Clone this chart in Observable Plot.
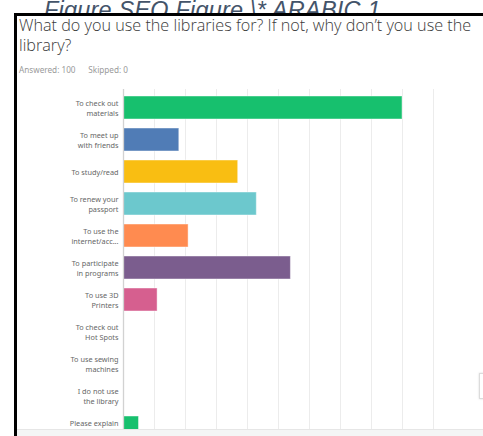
<!DOCTYPE html>
<html>
<head>
<meta charset="utf-8">
<script src="https://cdn.jsdelivr.net/npm/d3@7"></script>
<script src="https://cdn.jsdelivr.net/npm/@observablehq/plot@0.6"></script>
<style>
  html, body { margin: 0; padding: 0; background: white; width: 483px; height: 436px; overflow: hidden; position: relative; }
  .abs { position: absolute; }
  #caption { left: 44px; top: -3px; font: italic 23.5px "Liberation Sans", sans-serif; color: #44546a; white-space: nowrap; letter-spacing: 0.2px; }
  #box { left: 14px; top: 13px; width: 469px; height: 430px; background: white; border-left: 3px solid #000; border-top: 3px solid #000; box-sizing: border-box; }
  #title { left: 19px; top: 15px; width: 463px; font: 300 16.2px/20px "Open Sans", sans-serif; color: #3a3a3a; }
  #meta { left: 19px; top: 64px; font: 8.2px "Noto Sans", sans-serif; color: #9a9a9a; white-space: pre; }
  #chart { left: 0; top: 80px; }
  #leftborder { left: 14px; top: 13px; width: 3px; height: 430px; background: #000; z-index: 5; }
  #strip { left: 17px; top: 429px; width: 466px; height: 10px; background: #f4f5f5; border-top: 1px solid #e6e6e6; z-index: 4; }
  #widget { left: 479px; top: 373px; width: 10px; height: 24px; background: #fff; border: 1px solid #dcdcdc; box-shadow: 0 0 2px rgba(0,0,0,0.15); z-index: 4; }
</style>
</head>
<body>
<div id="caption" class="abs">Figure  SEQ Figure \* ARABIC 1</div>
<div id="box" class="abs"></div>
<div id="title" class="abs">What do you use the libraries for? If not, why don’t you use the library?</div>
<div id="meta" class="abs">Answered: 100      Skipped: 0</div>
<div id="chart" class="abs"></div>
<div id="leftborder" class="abs"></div>
<div id="strip" class="abs"></div>
<div id="widget" class="abs"></div>
<script>
const categories = [
  "To check out\nmaterials",
  "To meet up\nwith friends",
  "To study/read",
  "To renew your\npassport",
  "To use the\ninternet/acc...",
  "To participate\nin programs",
  "To use 3D\nPrinters",
  "To check out\nHot Spots",
  "To use sewing\nmachines",
  "I do not use\nthe library",
  "Please explain"
];
const percents = [90, 18, 37, 43, 21, 54, 11, 0, 0, 0, 5];
const colors = ["#17c06e", "#507cb6", "#f9be12", "#6cc8cd", "#ff8b50", "#7b5d8e", "#d65f8f", "#17c06e", "#17c06e", "#17c06e", "#17c06e"];
const gridTicks = [10, 20, 30, 40, 50, 60, 70, 80, 90, 100];

const data = categories.map((c, i) => ({ label: c, value: percents[i], color: colors[i] }));
const lastLabel = categories[categories.length - 1];

const chart = Plot.plot({
  width: 483,
  height: 356,
  marginTop: 9,
  marginBottom: 0,
  marginLeft: 123,
  marginRight: 50,
  style: { background: "transparent", fontFamily: "Noto Sans, sans-serif" },
  x: { domain: [0, 100], range: [123, 433], axis: null },
  y: { domain: categories, range: [4.6, 370.4], padding: 0.29, axis: null },
  marks: [
    Plot.ruleX(gridTicks, { stroke: "#ececec", strokeWidth: 1 }),
    Plot.barX(data.filter(d => d.value > 0), {
      x: "value", y: "label", fill: "color",
      stroke: "white", strokeOpacity: 0.45, strokeWidth: 1
    }),
    Plot.ruleX([0], { stroke: "#d2d2d2", strokeWidth: 1.3 }),
    Plot.text(data.filter(d => d.label !== lastLabel), {
      x: 0, y: "label", text: "label", textAnchor: "end", dx: -5,
      fontSize: 7.3, lineHeight: 1.28, fill: "#666"
    }),
    Plot.text(data.filter(d => d.label === lastLabel), {
      x: 0, y: "label", text: "label", textAnchor: "end", dx: -5, dy: -4.5,
      fontSize: 7.3, fill: "#666"
    })
  ]
});
document.getElementById("chart").appendChild(chart);
</script>
</body>
</html>
